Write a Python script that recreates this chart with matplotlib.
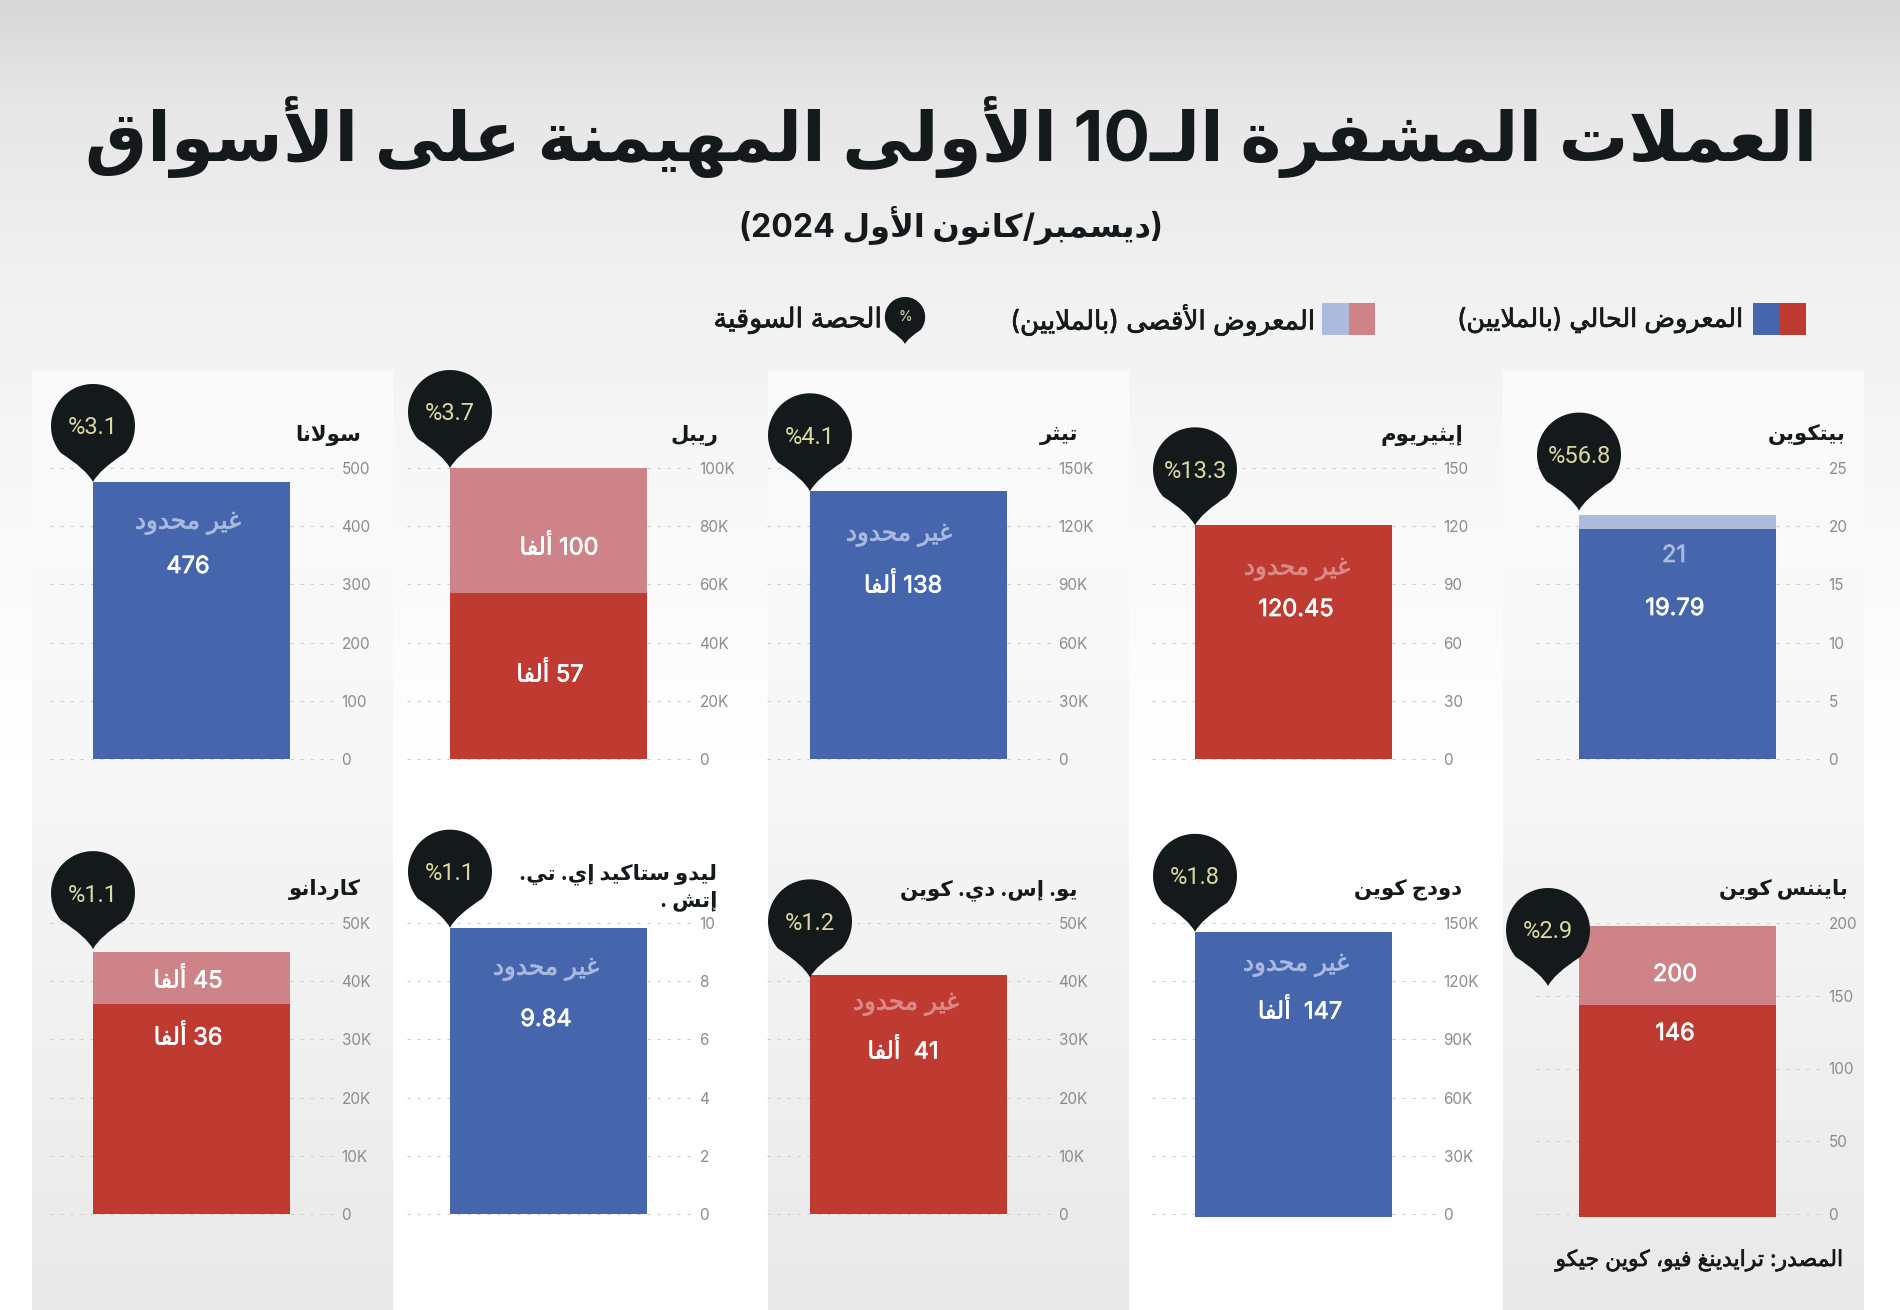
import numpy as np
import matplotlib
matplotlib.use("Agg")
import matplotlib.pyplot as plt
import matplotlib.patheffects as pe
from matplotlib.path import Path
from matplotlib.patches import PathPatch, Rectangle
from matplotlib.transforms import ScaledTranslation
import re

plt.rcParams['font.family'] = ['Inter', 'DejaVu Sans']

# data, in market rank order (the charts run right to left)
names = ["بيتكوين", "إيثيريوم", "تيثر", "ريبل", "سولانا",
         "بايننس كوين", "دودج كوين", "يو. إس. دي. كوين", "ليدو ستاكيد إي. تي.\nإتش .", "كاردانو"]
shares = [56.8, 13.3, 4.1, 3.7, 3.1, 2.9, 1.8, 1.2, 1.1, 1.1]
current_supply = [19.79, 120.45, 138000, 57000, 476, 146, 147000, 41000, 9.84, 36000]
max_supply = [21, None, None, 100000, None, 200, None, None, None, 45000]
bar_colors = ["blue", "red", "blue", "red", "blue", "red", "blue", "red", "blue", "red"]
current_labels = ["19.79", "120.45", "138 ألفا", "57 ألفا", "476", "146", "147  ألفا", "41  ألفا", "9.84", "36 ألفا"]
max_labels = ["21", "غير محدود", "غير محدود", "100 ألفا", "غير محدود",
              "200", "غير محدود", "غير محدود", "غير محدود", "45 ألفا"]
tick_values = [[0, 5, 10, 15, 20, 25],
               [0, 30, 60, 90, 120, 150],
               [0, 30000, 60000, 90000, 120000, 150000],
               [0, 20000, 40000, 60000, 80000, 100000],
               [0, 100, 200, 300, 400, 500],
               [0, 50, 100, 150, 200],
               [0, 30000, 60000, 90000, 120000, 150000],
               [0, 10000, 20000, 30000, 40000, 50000],
               [0, 2, 4, 6, 8, 10],
               [0, 10000, 20000, 30000, 40000, 50000]]
tick_labels = [["0", "5", "10", "15", "20", "25"],
               ["0", "30", "60", "90", "120", "150"],
               ["0", "30K", "60K", "90K", "120K", "150K"],
               ["0", "20K", "40K", "60K", "80K", "100K"],
               ["0", "100", "200", "300", "400", "500"],
               ["0", "50", "100", "150", "200"],
               ["0", "30K", "60K", "90K", "120K", "150K"],
               ["0", "10K", "20K", "30K", "40K", "50K"],
               ["0", "2", "4", "6", "8", "10"],
               ["0", "10K", "20K", "30K", "40K", "50K"]]

title = "العملات المشفرة الـ10 الأولى المهيمنة على الأسواق"
subtitle = "(ديسمبر/كانون الأول 2024)"
legend_current = "المعروض الحالي (بالملايين)"
legend_max = "المعروض الأقصى (بالملايين)"
legend_share = "الحصة السوقية"
source = "المصدر: ترايدينغ فيو، كوين جيكو"

# layout in pixels of the 1900x1310 picture, columns left to right
W, H = 1900, 1310
panel_left = [32, 768, 1503]
panel_width = 361
grid_left = [50, 407, 767, 1152, 1536]
grid_right = [336, 694, 1053, 1438, 1823]
bar_left = [93, 450, 810, 1195, 1579]
bar_right = [290, 647, 1007, 1392, 1776]
row_top = [468, 923]
row_bottom = [759, 1214]
bar_shift = [0, 0, 0, 0, 0, 3, 3, 0, 0, 0]  # the lower right bars sit a bit under their zero line
name_right = [1846, 1463, 1078, 718, 361, 1848, 1462, 1077, 717, 361]
name_y = [435, 435, 435, 435, 435, 890, 890, 890, 887, 890]
current_xy = [(1675, 609), (1296, 610), (903, 585), (550, 674), (188, 567),
              (1675, 1034), (1300, 1011), (903, 1051), (546, 1020), (188, 1037)]
max_xy = [(1674, 556), (1297, 569), (899, 535), (559, 547), (188, 523),
          (1675, 975), (1296, 965), (906, 1004), (546, 969), (188, 980)]
tip_shift = [(0, -4), (0, 0), (0, 0), (0, 0), (0, 0), (-31, 60), (0, 0), (0, 2), (0, 0), (0, -3)]

BLUE, RED = "#4565ad", "#bf3a31"
LIGHT = {"blue": "#acbade", "red": "#cd8387"}
SOFT_TEXT = {"blue": "#a9b8de", "red": "#d98a86"}
FULL = {"blue": BLUE, "red": RED}
DARK = "#141a1c"
PALE = "#dcd9a0"

AR_TABLE = [("ء", 0xFE80, 1), ("آ", 0xFE81, 2), ("أ", 0xFE83, 2), ("ؤ", 0xFE85, 2), ("إ", 0xFE87, 2),
            ("ئ", 0xFE89, 4), ("ا", 0xFE8D, 2), ("ب", 0xFE8F, 4), ("ة", 0xFE93, 2), ("ت", 0xFE95, 4),
            ("ث", 0xFE99, 4), ("ج", 0xFE9D, 4), ("ح", 0xFEA1, 4), ("خ", 0xFEA5, 4), ("د", 0xFEA9, 2),
            ("ذ", 0xFEAB, 2), ("ر", 0xFEAD, 2), ("ز", 0xFEAF, 2), ("س", 0xFEB1, 4), ("ش", 0xFEB5, 4),
            ("ص", 0xFEB9, 4), ("ض", 0xFEBD, 4), ("ط", 0xFEC1, 4), ("ظ", 0xFEC5, 4), ("ع", 0xFEC9, 4),
            ("غ", 0xFECD, 4), ("ف", 0xFED1, 4), ("ق", 0xFED5, 4), ("ك", 0xFED9, 4), ("ل", 0xFEDD, 4),
            ("م", 0xFEE1, 4), ("ن", 0xFEE5, 4), ("ه", 0xFEE9, 4), ("و", 0xFEED, 2), ("ى", 0xFEEF, 2),
            ("ي", 0xFEF1, 4)]
AR_FORMS = {c: [chr(start + k) for k in range(n)] for c, start, n in AR_TABLE}
AR_FORMS["ـ"] = ["ـ"] * 4
LAM_ALEF = {"آ": 0xFEF5, "أ": 0xFEF7, "إ": 0xFEF9, "ا": 0xFEFB}
MIRROR = str.maketrans("()", ")(")


def shape(text):
    out = []
    prev_joins = False
    i = 0
    while i < len(text):
        c = text[i]
        nxt = text[i + 1] if i + 1 < len(text) else ""
        if c == "ل" and nxt in LAM_ALEF and nxt:
            out.append(chr(LAM_ALEF[nxt] + (1 if prev_joins else 0)))
            prev_joins = False
            i += 2
            continue
        if c not in AR_FORMS:
            out.append(c)
            prev_joins = False
            i += 1
            continue
        forms = AR_FORMS[c]
        next_joins = len(forms) == 4 and nxt in AR_FORMS and len(AR_FORMS[nxt]) > 1
        if prev_joins and next_joins:
            out.append(forms[3])
        elif prev_joins:
            out.append(forms[1] if len(forms) > 1 else forms[0])
        elif next_joins:
            out.append(forms[2])
        else:
            out.append(forms[0])
        prev_joins = next_joins
        i += 1
    return "".join(out)


def ar(text):
    # matplotlib has no shaping or bidi, so give it the visual order
    lines = []
    for line in text.split("\n"):
        parts = re.split(r"([0-9][0-9.,]*)", shape(line))
        visual = ""
        for part in reversed(parts):
            if part[:1].isdigit():
                visual += part
            else:
                visual += part[::-1].translate(MIRROR)
        lines.append(visual)
    return "\n".join(lines)


def medium(color, width=0.5):
    # the fonts here have no medium weight
    return [pe.withStroke(linewidth=width, foreground=color)]


def bubble(x, y, scale=1.0):
    r, c = 42 * scale, 56 * scale
    angles = np.radians(np.linspace(220, -40, 60))
    arc = [(x + r * np.cos(a), y - c - r * np.sin(a)) for a in angles]
    verts = [(x, y), (x - 6 * scale, y - 12 * scale), arc[0]] + arc[1:]
    verts += [(x + 6 * scale, y - 12 * scale), (x, y), (x, y)]
    codes = [Path.MOVETO, Path.CURVE3, Path.CURVE3] + [Path.LINETO] * (len(arc) - 1)
    codes += [Path.CURVE3, Path.CURVE3, Path.CLOSEPOLY]
    return PathPatch(Path(verts, codes), facecolor=DARK, edgecolor="none", zorder=5)


fig = plt.figure(figsize=(W / 100, H / 100), dpi=100)

# background gradients
bg = fig.add_axes([0, 0, 1, 1], zorder=0)
rows = np.arange(H)
back = np.interp(rows, [0, 100, 300, 450, 800, H], [0.84, 0.90, 0.945, 0.965, 1.0, 1.0])
bg.imshow(back[:, None], cmap="gray", vmin=0, vmax=1, aspect="auto", extent=(0, W, H, 0))
panel_rows = np.arange(371, H)
panel_fill = np.interp(panel_rows, [371, 780, H], [0.98, 0.965, 0.91])
for x0 in panel_left:
    bg.imshow(panel_fill[:, None], cmap="gray", vmin=0, vmax=1, aspect="auto",
              extent=(x0, x0 + panel_width, H, 371))
bg.set_xlim(0, W)
bg.set_ylim(H, 0)
bg.axis("off")

# overlay for text and markers, in pixel coordinates
ov = fig.add_axes([0, 0, 1, 1], zorder=3)
ov.set_xlim(0, W)
ov.set_ylim(H, 0)
ov.axis("off")

for i in range(10):
    row, col = i // 5, 4 - i % 5
    top, bottom = row_top[row], row_bottom[row]
    ax = fig.add_axes([grid_left[col] / W, 1 - bottom / H,
                       (grid_right[col] - grid_left[col]) / W, (bottom - top) / H], zorder=1)
    ax.patch.set_visible(False)
    color = bar_colors[i]
    bars = list(ax.bar(0, current_supply[i], width=1, color=FULL[color], zorder=3))
    if max_supply[i] is not None:
        bars += list(ax.bar(0, max_supply[i] - current_supply[i], width=1, bottom=current_supply[i],
                            color=LIGHT[color], zorder=3))
    shift = ScaledTranslation(0, -bar_shift[i] / 100, fig.dpi_scale_trans)
    for b in bars:
        b.set_transform(ax.transData + shift)
        b.set_clip_on(False)
    width = bar_right[col] - bar_left[col]
    ax.set_xlim(-0.5 - (bar_left[col] - grid_left[col]) / width,
                0.5 + (grid_right[col] - bar_right[col]) / width)
    ax.set_ylim(0, tick_values[i][-1])
    ax.set_xticks([])
    ax.set_yticks(tick_values[i])
    ax.set_yticklabels(tick_labels[i])
    ax.yaxis.tick_right()
    ax.tick_params(axis="y", length=0, pad=4, labelsize=11, labelcolor="#8c8c8c")
    ax.grid(axis="y", color="#cfcfcf", linewidth=0.8, linestyle=(0, (3, 6)))
    for gl in ax.get_ygridlines():
        gl.set_clip_on(False)
    ax.set_axisbelow(True)
    for sp in ax.spines.values():
        sp.set_visible(False)

    # panel title
    ov.text(name_right[i], name_y[i], ar(names[i]), ha="right", va="center", fontsize=15.3,
            fontweight="bold", color=DARK, linespacing=1.3, multialignment="right")

    # labels inside the bar
    unlimited = max_supply[i] is None
    top_color = SOFT_TEXT[color] if unlimited or max_labels[i] == "21" else "white"
    ov.text(*max_xy[i], ar(max_labels[i]), ha="center", va="center",
            fontsize=17.8 if unlimited else 17, color=top_color, path_effects=medium(top_color))
    ov.text(*current_xy[i], ar(current_labels[i]), ha="center", va="center", fontsize=17,
            color="white", path_effects=medium("white"))

    # share marker, tip on the top left corner of the bar
    bar_top = max_supply[i] if max_supply[i] is not None else current_supply[i]
    tip_y = bottom + bar_shift[i] - (bottom - top) * bar_top / tick_values[i][-1]
    tip_x = bar_left[col] + tip_shift[i][0]
    tip_y += tip_shift[i][1]
    ov.add_patch(bubble(tip_x, tip_y))
    ov.text(tip_x, tip_y - 54, f"%{shares[i]}", ha="center", va="center", fontsize=17,
            color=PALE, family=["Roboto"], zorder=6)

# heading
ov.text(951, 137, ar(title), ha="center", va="center", fontsize=50, fontweight="bold", color=DARK)
ov.text(951, 226, ar(subtitle), ha="center", va="center", fontsize=23, fontweight="bold", color=DARK)

# legend
for x0, left, right in [(1753, BLUE, RED), (1322, LIGHT["blue"], LIGHT["red"])]:
    ov.add_patch(Rectangle((x0, 303), 26.5, 32, facecolor=left, edgecolor="none"))
    ov.add_patch(Rectangle((x0 + 26.5, 303), 26.5, 32, facecolor=right, edgecolor="none"))
ov.text(1743, 320, ar(legend_current), ha="right", va="center", fontsize=18.3, color=DARK,
        path_effects=medium(DARK))
ov.text(1315, 320, ar(legend_max), ha="right", va="center", fontsize=18.9, color=DARK,
        path_effects=medium(DARK))
ov.add_patch(bubble(905, 344, scale=0.48))
ov.text(905, 317, "%", ha="center", va="center", fontsize=10, color=PALE, zorder=6)
ov.text(882, 320, ar(legend_share), ha="right", va="center", fontsize=19.5, color=DARK,
        path_effects=medium(DARK))

ov.text(1843, 1260, ar(source), ha="right", va="center", fontsize=15.8, color=DARK,
        path_effects=medium(DARK))

fig.savefig("out.png", dpi=100)
